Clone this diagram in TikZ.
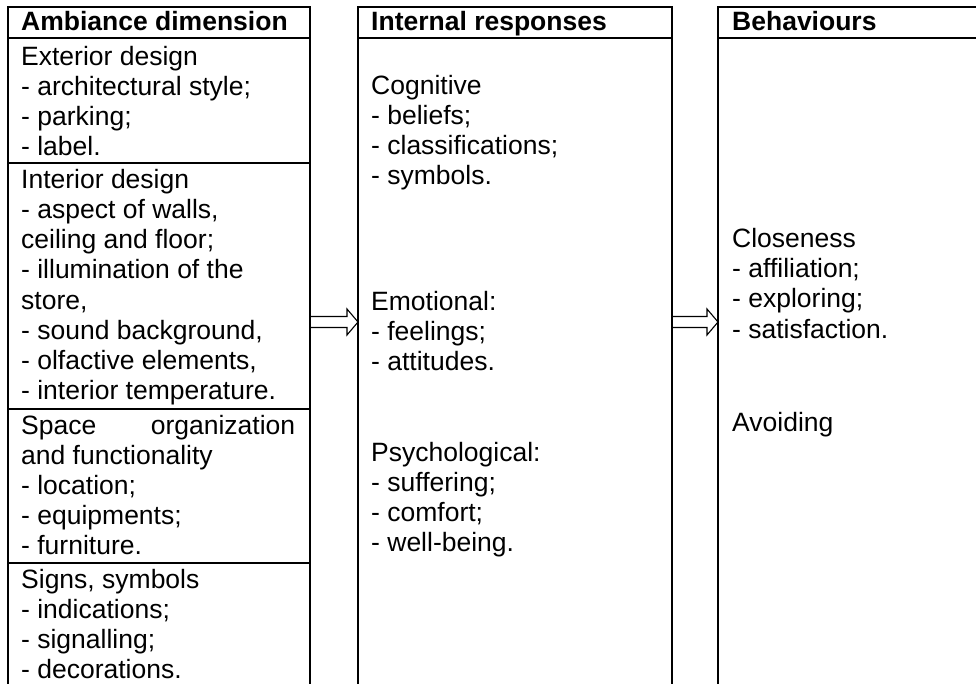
\documentclass[tikz,border=0pt]{standalone}
\usepackage{fontspec}
\setmainfont{Liberation Sans}
\usetikzlibrary{calc}
\begin{document}
\begin{tikzpicture}[x=1pt,y=-1pt,
    txt/.style={anchor=base west,inner sep=0pt,font=\fontsize{26.5}{30}\selectfont},
    hd/.style={txt,font=\fontsize{26.5}{30}\selectfont\bfseries},
    frame/.style={line width=1.8pt},
    blk/.style={line width=1.1pt,line join=miter}]
    \useasboundingbox (0,0) rectangle (976,684);
    \clip (0,0) rectangle (976,684);
    % three columns, cut at the bottom
    \foreach \l/\r in {8/310,358/672,718/995}{
        \draw[frame] (\l,700) |- (\r,7) -- (\r,700);
        \draw[frame] (\l,38) -- (\r,38);
    }
    \foreach \y in {163,409,563}
    \draw[frame] (8,\y) -- (310,\y);
    % headers
    \node[hd] (hamb) at (21,31) {Ambiance dimension};
    \node[hd] (hint) at (371,31) {Internal responses};
    \node[hd] (hbeh) at (732,31) {Behaviours};
    % ambiance dimension
    \foreach \y/\t in {66/Exterior design,96/- architectural style;,126/- parking;,156/- label.,
        189/Interior design,219/{- aspect of walls,},249/ceiling and floor;,279/- illumination of the,
        309/{store,},339/{- sound background,},369/{- olfactive elements,},399/- interior temperature.,
        464/and functionality,494/- location;,524/- equipments;,554/- furniture.,
        588/{Signs, symbols},618/- indications;,648/- signalling;,678/- decorations.}
    \node[txt] (amb\y) at (21,\y) {\t};
    \node[txt] (amb434) at (21,434) {\makebox[274pt][s]{Space organization}};
    % internal responses
    \foreach \y/\t in {95/Cognitive,125/- beliefs;,155/- classifications;,185/- symbols.,
        310/Emotional:,340/- feelings;,370/- attitudes.,
        461/Psychological:,491/- suffering;,521/- comfort;,551/- well-being.}
    \node[txt] (int\y) at (371,\y) {\t};
    % behaviours
    \foreach \y/\t in {248/Closeness,278/- affiliation;,308/- exploring;,338/- satisfaction.,431/Avoiding}
    \node[txt] (beh\y) at (732,\y) {\t};
    % hollow arrows between the columns
    \coordinate (amb) at (310,322);
    \coordinate (int) at (358,322);
    \coordinate (intr) at (672,322);
    \coordinate (beh) at (718,322);
    \foreach \a/\b in {amb/int,intr/beh}
    \draw[blk] ($(\a)+(0,-5.5)$) -- ($(\b)+(-11,-5.5)$) -- ($(\b)+(-11,-13)$) -- (\b)
        -- ($(\b)+(-11,13)$) -- ($(\b)+(-11,5.5)$) -- ($(\a)+(0,5.5)$);
\end{tikzpicture}
\end{document}
